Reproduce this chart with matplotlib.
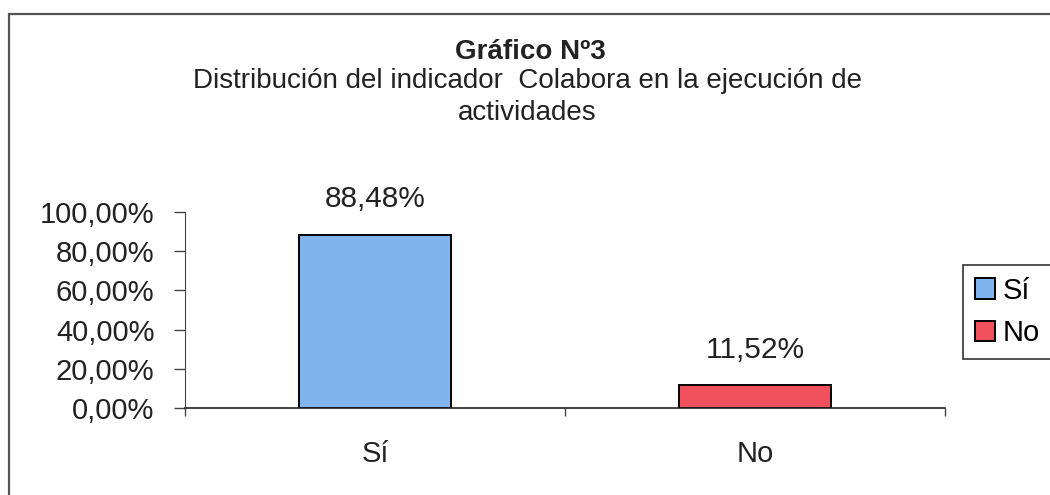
import matplotlib.pyplot as plt
from matplotlib.patches import Rectangle
from matplotlib.ticker import FuncFormatter

# datos del gráfico
categorias = ["Sí", "No"]
porcentajes = [88.48, 11.52]
colores = ["#80b4ec", "#f0505c"]
ticks_y = [0, 20, 40, 60, 80, 100]

titulo = "Gráfico Nº3"
subtitulo = "Distribución del indicador  Colabora en la ejecución de\nactividades"

plt.rcParams['font.family'] = ['Liberation Sans', 'DejaVu Sans']

fig = plt.figure(figsize=(10.5, 4.95), dpi=100)
fig.patch.set_facecolor("white")

# marco exterior del área del gráfico
fig.patches.append(Rectangle((9 / 1050, -0.05), 1.2, 1 - 14 / 495 + 0.05,
                             transform=fig.transFigure, fill=False,
                             edgecolor="#555555", linewidth=1.6))

ax = fig.add_axes([185 / 1050, 87 / 495, 760 / 1050, 196 / 495])
ax.set_facecolor("none")

x = list(range(len(categorias)))
barras = ax.bar(x, porcentajes, width=0.4, color=colores,
                edgecolor="black", linewidth=1.4, label=None)

for xi, v in zip(x, porcentajes):
    ax.annotate(f"{v:.2f}%".replace(".", ","), (xi, v),
                textcoords="offset points", xytext=(0, 15.5),
                ha="center", va="bottom", fontsize=21.5, color="#222222")

ax.set_xlim(-0.5, len(categorias) - 0.5)
ax.set_ylim(0, 100)
ax.set_yticks(ticks_y)
ax.yaxis.set_major_formatter(FuncFormatter(lambda v, p: f"{v:.2f}%".replace(".", ",")))
ax.tick_params(axis="y", direction="out", length=8, width=1, pad=14,
               labelsize=21, labelcolor="#222222", color="#444444")

ax.set_xticks(x)
ax.set_xticklabels(categorias)
ax.set_xticks([i - 0.5 for i in range(len(categorias) + 1)], minor=True)
ax.tick_params(axis="x", which="major", length=0, pad=23,
               labelsize=21, labelcolor="#222222")
ax.tick_params(axis="x", which="minor", direction="out", length=6,
               width=1, color="#444444")

for lado in ["top", "right"]:
    ax.spines[lado].set_visible(False)
ax.spines["left"].set_color("#444444")
ax.spines["bottom"].set_color("#222222")
ax.spines["bottom"].set_linewidth(1.2)

fig.text(0.505, 1 - 52 / 495, titulo, ha="center", va="center",
         fontsize=20, fontweight="bold", color="#222222")
fig.text(0.502, 1 - 97 / 495, subtitulo, ha="center", va="center",
         fontsize=20, linespacing=1.3, color="#222222")

leg = fig.legend(barras, categorias, loc="upper left",
                 bbox_to_anchor=(963 / 1050, 1 - 265 / 495),
                 fontsize=21, frameon=True, fancybox=False,
                 handlelength=0.7, handleheight=0.7, handletextpad=0.25,
                 borderpad=0.4, labelspacing=0.5, borderaxespad=0)
leg.get_frame().set_edgecolor("black")
leg.get_frame().set_linewidth(1.2)

fig.savefig("out.png", dpi=100)
